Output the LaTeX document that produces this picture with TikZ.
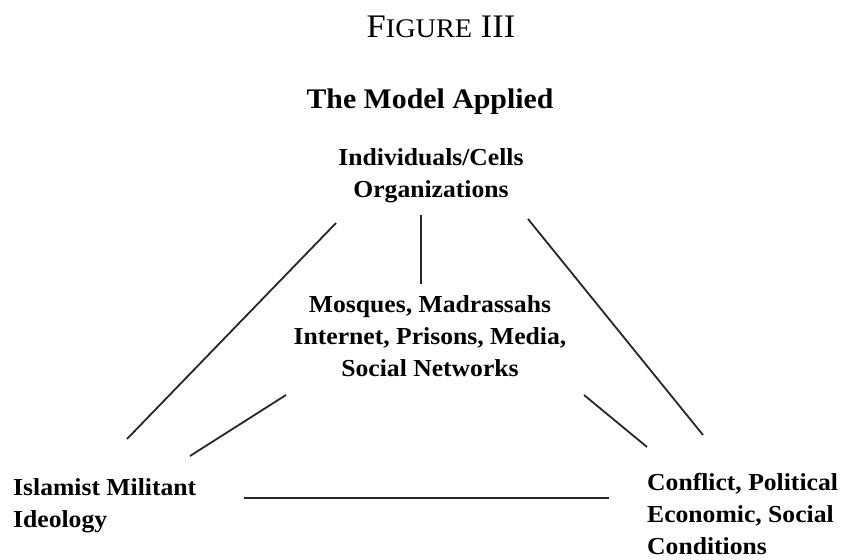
\documentclass[tikz,border=0pt]{standalone}
\usepackage{fontspec}
\setmainfont[FakeStretch=1.05]{Liberation Serif}
\begin{document}
\begin{tikzpicture}[x=1bp,y=-1bp,
  lbl/.style={font=\bfseries\fontsize{24.5}{32}\selectfont, inner sep=0pt, align=center},
  link/.style={line width=1.8bp, black!85}]
\useasboundingbox (0,0) rectangle (843,560);

% headings
\node[inner sep=0pt, font=\fontsize{33}{36}\selectfont] (fig) at (441,27)
  {F{\fontsize{27}{30}\selectfont IGURE} III};
\node[inner sep=0pt, font=\bfseries\fontsize{28.5}{30}\selectfont] (title) at (430,102) {The Model Applied};

% the four elements of the model
\node[lbl] (agents) at (431,176) {Individuals/Cells\\Organizations};
\node[lbl] (venues) at (430,336) {Mosques, Madrassahs\\Internet, Prisons, Media,\\Social Networks};
\node[lbl, align=left, anchor=west] (ideology) at (13,506) {Islamist Militant\\Ideology};
\node[lbl, align=left, anchor=west] (conditions) at (647,514) {Conflict, Political\\Economic, Social\\Conditions};

% line end points
\coordinate (a1) at (336,223);  \coordinate (i1) at (127,439);
\coordinate (a2) at (421,215);  \coordinate (v2) at (421,284);
\coordinate (a3) at (528,219);  \coordinate (c3) at (703,435);
\coordinate (v4) at (286,395);  \coordinate (i4) at (190,456);
\coordinate (v5) at (584,395);  \coordinate (c5) at (647,447);
\coordinate (i6) at (244,498);  \coordinate (c6) at (609,498);

\draw[link] (a1) -- (i1);
\draw[link] (a2) -- (v2);
\draw[link] (a3) -- (c3);
\draw[link] (v4) -- (i4);
\draw[link] (v5) -- (c5);
\draw[link] (i6) -- (c6);
\end{tikzpicture}
\end{document}
